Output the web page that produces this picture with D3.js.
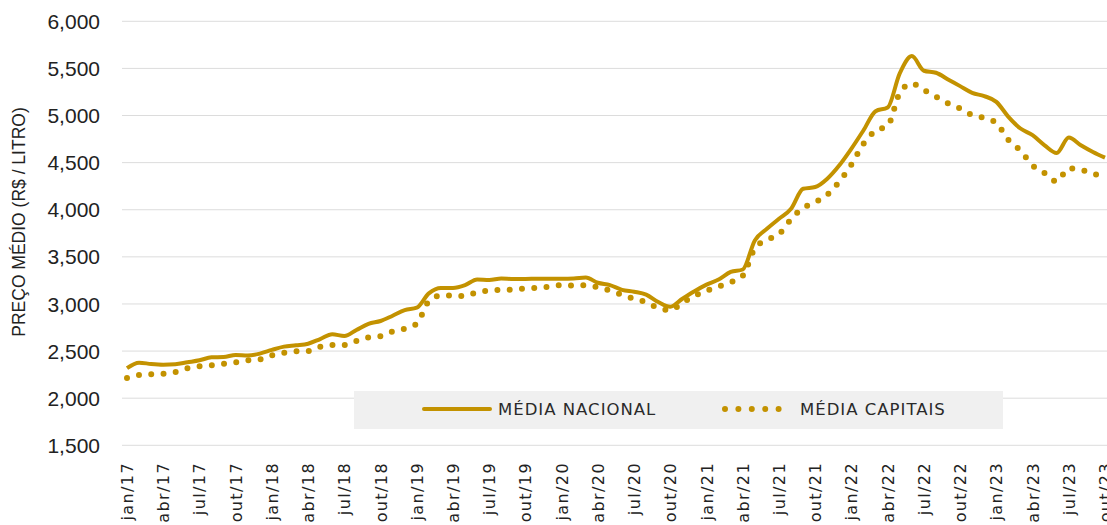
<!DOCTYPE html>
<html lang="pt">
<head>
    <meta charset="UTF-8">
    <title>Preço médio - média nacional x capitais</title>
    <script src="https://d3js.org/d3.v7.min.js"></script>
    <style>
        body { margin: 0; background: #fff; }
        .grid line { stroke: #dcdcdc; stroke-width: 1; }
        .ytick { font-family: "Liberation Sans", Arial, sans-serif; font-size: 21px; fill: #222; }
        .xtick { font-family: "DejaVu Sans", sans-serif; font-size: 16px; letter-spacing: 1.4px; fill: #222; }
        .ytitle { font-family: "Liberation Sans", Arial, sans-serif; font-size: 17.5px; fill: #222; }
        .legend text { font-family: "DejaVu Sans", sans-serif; font-size: 16.5px; letter-spacing: 1px; fill: #2a2a2a; }
    </style>
</head>
<body>
<svg id="chart" width="1107" height="525"></svg>
<script>
    const width = 1107, height = 525;
    const gold = "#c39200";

    // monthly, jan/17 .. out/23
    const nacional = [
        2318, 2377, 2363, 2356, 2360, 2381, 2402, 2434, 2437, 2459, 2452, 2473,
        2512, 2547, 2561, 2578, 2628, 2678, 2660, 2724, 2790, 2819, 2875, 2935,
        2960, 3112, 3170, 3170, 3200, 3260, 3254, 3270, 3265, 3265, 3268, 3268,
        3268, 3270, 3280, 3225, 3200, 3150, 3130, 3100, 3020, 2970, 3055, 3135,
        3205, 3260, 3340, 3366, 3674, 3798, 3904, 4011, 4223, 4241, 4330, 4472,
        4649, 4844, 5046, 5085, 5447, 5631, 5475, 5454, 5383, 5312, 5241, 5206,
        5145, 4986, 4862, 4791, 4684, 4603, 4766, 4684, 4613, 4553
    ];
    const capitais = [
        2215, 2245, 2255, 2258, 2278, 2317, 2338, 2349, 2366, 2380, 2402, 2412,
        2455, 2483, 2497, 2500, 2546, 2564, 2564, 2607, 2646, 2659, 2709, 2737,
        2790, 3030, 3090, 3089, 3085, 3126, 3142, 3150, 3153, 3164, 3171, 3185,
        3199, 3196, 3199, 3178, 3142, 3097, 3054, 3019, 2956, 2935, 3012, 3085,
        3140, 3185, 3230, 3300, 3590, 3680, 3740, 3900, 4020, 4080, 4160, 4300,
        4480, 4700, 4840, 4890, 5240, 5340, 5270, 5200, 5130, 5075, 5004, 4975,
        4920, 4740, 4628, 4470, 4390, 4301, 4440, 4420, 4390, 4320
    ];
    const tickLabels = [
        "jan/17", "abr/17", "jul/17", "out/17", "jan/18", "abr/18", "jul/18", "out/18",
        "jan/19", "abr/19", "jul/19", "out/19", "jan/20", "abr/20", "jul/20", "out/20",
        "jan/21", "abr/21", "jul/21", "out/21", "jan/22", "abr/22", "jul/22", "out/22",
        "jan/23", "abr/23", "jul/23", "out/23"
    ];
    const yTicks = [1500, 2000, 2500, 3000, 3500, 4000, 4500, 5000, 5500, 6000];
    const seriesNames = ["MÉDIA NACIONAL", "MÉDIA CAPITAIS"];

    const svg = d3.select("#chart");

    const x = d3.scaleLinear().domain([0, nacional.length - 1]).range([127, 1105]);
    const y = d3.scaleLinear().domain([1500, 6000]).range([445.3, 21.3]);

    // gridlines
    svg.append("g").attr("class", "grid")
        .selectAll("line").data(yTicks).enter().append("line")
        .attr("x1", 122).attr("x2", width)
        .attr("y1", d => y(d)).attr("y2", d => y(d));

    // y tick labels
    svg.append("g").selectAll("text").data(yTicks).enter().append("text")
        .attr("class", "ytick")
        .attr("x", 100).attr("y", d => y(d))
        .attr("dy", "0.36em")
        .attr("text-anchor", "end")
        .text(d => d3.format(",")(d));

    svg.append("text").attr("class", "ytitle")
        .attr("transform", "translate(25,222) rotate(-90)")
        .attr("text-anchor", "middle")
        .text("PREÇO MÉDIO (R$ / LITRO)");

    // x tick labels (every 3 months)
    svg.append("g").selectAll("text").data(tickLabels).enter().append("text")
        .attr("class", "xtick")
        .attr("transform", (d, i) => `translate(${x(i * 3) + 6},462) rotate(-90)`)
        .attr("text-anchor", "end")
        .text(d => d);

    // legend
    const lg = svg.append("g").attr("class", "legend");
    lg.append("rect").attr("x", 354).attr("y", 391).attr("width", 649).attr("height", 38)
        .attr("fill", "#f0f0f0");
    lg.append("line").attr("x1", 424).attr("x2", 490).attr("y1", 409).attr("y2", 409)
        .attr("stroke", gold).attr("stroke-width", 4).attr("stroke-linecap", "round");
    lg.append("text").attr("x", 498).attr("y", 409).attr("dy", "0.36em").text(seriesNames[0]);
    lg.append("line").attr("x1", 725).attr("x2", 792).attr("y1", 409).attr("y2", 409)
        .attr("stroke", gold).attr("stroke-width", 6).attr("stroke-linecap", "round")
        .attr("stroke-dasharray", "0 13.4");
    lg.append("text").attr("x", 800).attr("y", 409).attr("dy", "0.36em").text(seriesNames[1]);

    const line = d3.line()
        .x((d, i) => x(i))
        .y(d => y(d))
        .curve(d3.curveMonotoneX);

    svg.append("path").datum(capitais)
        .attr("d", line)
        .attr("fill", "none")
        .attr("stroke", gold)
        .attr("stroke-width", 6)
        .attr("stroke-linecap", "round")
        .attr("stroke-dasharray", "0 12.3");

    svg.append("path").datum(nacional)
        .attr("d", line)
        .attr("fill", "none")
        .attr("stroke", gold)
        .attr("stroke-width", 4)
        .attr("stroke-linejoin", "round");
</script>
</body>
</html>
